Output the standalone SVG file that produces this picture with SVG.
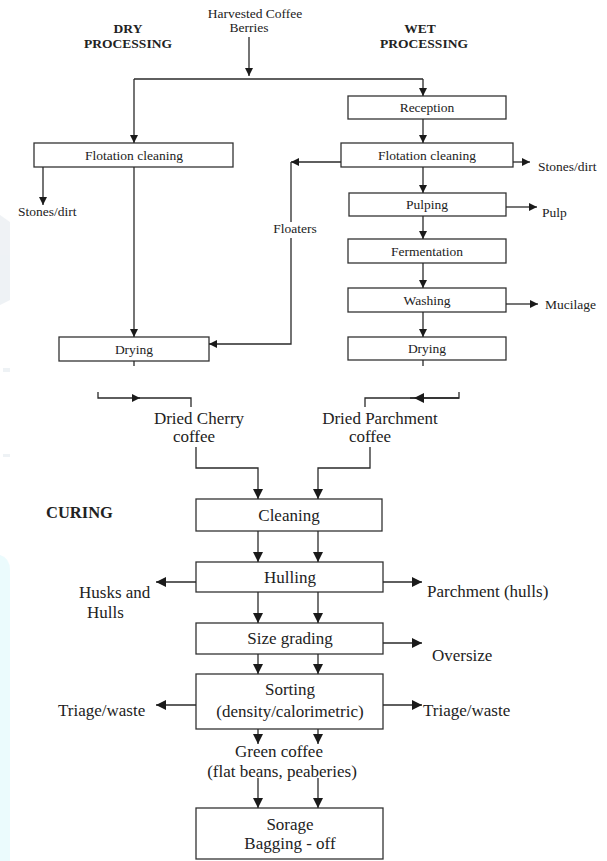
<svg xmlns="http://www.w3.org/2000/svg" width="607" height="861" viewBox="0 0 607 861">
<defs>
<marker id="ah" viewBox="0 0 10 10" refX="10" refY="5" markerUnits="userSpaceOnUse" markerWidth="9" markerHeight="8" orient="auto">
<path d="M0,0 L10,5 L0,10 z" fill="#1a1a1a"/>
</marker>
<marker id="ahL" viewBox="0 0 10 10" refX="10" refY="5" markerUnits="userSpaceOnUse" markerWidth="11" markerHeight="10" orient="auto">
<path d="M0,0 L10,5 L0,10 z" fill="#1a1a1a"/>
</marker>
</defs>
<style>
.box{fill:#ffffff;stroke:#333;stroke-width:1.3}
.t{font-family:"Liberation Serif","Times New Roman",serif;font-size:13.5px;fill:#222}
.tl{font-family:"Liberation Serif","Times New Roman",serif;font-size:17px;fill:#222}
.h{font-family:"Liberation Serif","Times New Roman",serif;font-size:13.5px;font-weight:bold;fill:#222}
.hl{font-family:"Liberation Serif","Times New Roman",serif;font-size:16.5px;font-weight:bold;fill:#222}
.c{text-anchor:middle}
.ln{fill:none;stroke:#2a2a2a;stroke-width:1.3}
.a{marker-end:url(#ah)}
.A{marker-end:url(#ahL)}
</style>
<rect width="607" height="861" fill="#ffffff"/>
<g id="watermark" opacity="0.5">
<path d="M0,215 L10,222 L10,300 L0,305 z" fill="#dfe6ec"/>
<rect x="3" y="368" width="7" height="4" fill="#dfe6ec"/>
<rect x="3" y="454" width="7" height="3" fill="#dfe6ec"/>
<path d="M0,555 Q10,558 10,570 L10,861 L0,861 z" fill="#d8f8fb"/>
</g>

<g id="headings">
<text class="h c" x="128" y="33">DRY</text>
<text class="h c" x="128" y="48">PROCESSING</text>
<text class="h c" x="420" y="33">WET</text>
<text class="h c" x="424" y="48">PROCESSING</text>
<text class="hl" x="46" y="518">CURING</text>
</g>

<g id="harvested">
<text class="t c" x="255" y="18">Harvested Coffee</text>
<text class="t c" x="249" y="32">Berries</text>
</g>

<g id="dry-flotation"><rect class="box" x="34" y="143" width="199" height="24"/><text class="t c" x="134" y="159.5">Flotation cleaning</text></g>
<g id="dry-stones"><text class="t" x="18" y="216">Stones/dirt</text></g>
<g id="dry-drying"><rect class="box" x="59" y="337" width="150" height="24"/><text class="t c" x="134" y="353.5">Drying</text></g>

<g id="reception"><rect class="box" x="348" y="96" width="158" height="23"/><text class="t c" x="427" y="112">Reception</text></g>
<g id="wet-flotation"><rect class="box" x="341" y="143" width="172" height="24"/><text class="t c" x="427" y="159.5">Flotation cleaning</text></g>
<g id="wet-stones"><text class="t" x="538" y="171">Stones/dirt</text></g>
<g id="floaters"><text class="t c" x="295" y="233">Floaters</text></g>
<g id="pulping"><rect class="box" x="349" y="193" width="157" height="23"/><text class="t c" x="427" y="209">Pulping</text></g>
<g id="pulp"><text class="t" x="542" y="217">Pulp</text></g>
<g id="fermentation"><rect class="box" x="348" y="239" width="158" height="24"/><text class="t c" x="427" y="255.5">Fermentation</text></g>
<g id="washing"><rect class="box" x="348" y="288" width="158" height="24"/><text class="t c" x="427" y="304.5">Washing</text></g>
<g id="mucilage"><text class="t" x="545" y="309">Mucilage</text></g>
<g id="wet-drying"><rect class="box" x="348" y="337" width="158" height="23"/><text class="t c" x="427" y="353">Drying</text></g>

<g id="dried-cherry">
<text class="tl c" x="199" y="424">Dried Cherry</text>
<text class="tl c" x="194" y="442">coffee</text>
</g>
<g id="dried-parchment">
<text class="tl c" x="380" y="424">Dried Parchment</text>
<text class="tl c" x="370" y="442">coffee</text>
</g>

<g id="cleaning"><rect class="box" x="196" y="499" width="186" height="32"/><text class="tl c" x="289" y="521">Cleaning</text></g>
<g id="hulling"><rect class="box" x="196" y="562" width="187" height="30"/><text class="tl c" x="290" y="583">Hulling</text></g>
<g id="husks"><text class="tl" x="79" y="598">Husks and</text><text class="tl" x="87" y="618">Hulls</text></g>
<g id="parchment-hulls"><text class="tl" x="427" y="597">Parchment (hulls)</text></g>
<g id="size-grading"><rect class="box" x="196" y="623" width="187" height="31"/><text class="tl c" x="290" y="644">Size grading</text></g>
<g id="oversize"><text class="tl" x="432" y="661">Oversize</text></g>
<g id="sorting"><rect class="box" x="196" y="674" width="187" height="55"/><text class="tl c" x="290" y="695">Sorting</text><text class="tl c" x="290" y="717">(density/calorimetric)</text></g>
<g id="triage-left"><text class="tl" x="58" y="716">Triage/waste</text></g>
<g id="triage-right"><text class="tl" x="423" y="716">Triage/waste</text></g>
<g id="green-coffee"><text class="tl c" x="279" y="757">Green coffee</text><text class="tl c" x="282" y="777">(flat beans, peaberies)</text></g>
<g id="storage"><rect class="box" x="196" y="808" width="187" height="51"/><text class="tl c" x="290" y="830">Sorage</text><text class="tl c" x="290" y="849">Bagging - off</text></g>

<g id="connectors">
<path class="ln a" d="M249,37 V76"/>
<path class="ln" d="M134,79 H423"/>
<path class="ln a" d="M134,79 V143"/>
<path class="ln a" d="M423,79 V96"/>
<path class="ln a" d="M43,167 V205"/>
<path class="ln a" d="M134,167 V337"/>
<path class="ln a" d="M423,119 V143"/>
<path class="ln a" d="M513,162 H530"/>
<path class="ln a" d="M341,162 H291"/>
<path class="ln" d="M291,162 V222"/>
<path class="ln a" d="M291,238 V344 H209"/>
<path class="ln a" d="M423,167 V193"/>
<path class="ln a" d="M506,207 H537"/>
<path class="ln a" d="M423,216 V239"/>
<path class="ln a" d="M423,263 V288"/>
<path class="ln a" d="M506,304 H538"/>
<path class="ln a" d="M423,312 V337"/>
<path class="ln" d="M134,361 V366"/>
<path class="ln" d="M423,360 V366"/>
<path class="ln a" d="M98,392 V398 H140"/>
<path class="ln" d="M139,398 H191 V407"/>
<path class="ln" d="M459,392 V398 H410"/>
<path class="ln A" d="M459,398 H414"/>
<path class="ln" d="M414,398 H365 V407"/>
<path class="ln A" d="M196,447 V468 H258 V499"/>
<path class="ln A" d="M370,447 V468 H318 V499"/>
<path class="ln A" d="M258,531 V562"/>
<path class="ln A" d="M318,531 V562"/>
<path class="ln A" d="M196,582 H156"/>
<path class="ln A" d="M383,582 H422"/>
<path class="ln A" d="M258,592 V623"/>
<path class="ln A" d="M318,592 V623"/>
<path class="ln A" d="M383,643 H422"/>
<path class="ln A" d="M258,654 V674"/>
<path class="ln A" d="M318,654 V674"/>
<path class="ln A" d="M196,705 H156"/>
<path class="ln A" d="M383,705 H422"/>
<path class="ln A" d="M258,729 V744"/>
<path class="ln A" d="M318,729 V744"/>
<path class="ln A" d="M258,778 V808"/>
<path class="ln A" d="M318,778 V808"/>
</g>
</svg>
